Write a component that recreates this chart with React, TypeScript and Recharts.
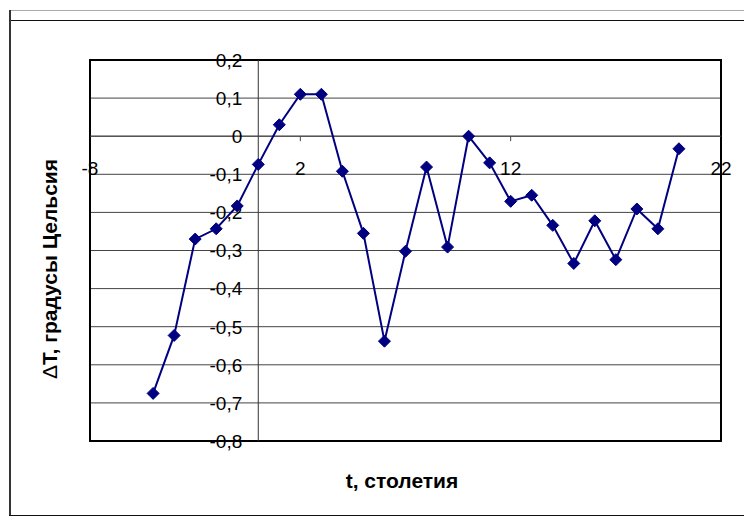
import React from 'react';
import {
  LineChart,
  Line,
  XAxis,
  YAxis,
  CartesianGrid,
  ReferenceLine,
  ReferenceDot,
  ReferenceArea,
} from 'recharts';

const centuries = [-5, -4, -3, -2, -1, 0, 1, 2, 3, 4, 5, 6, 7, 8, 9, 10, 11, 12, 13, 14, 15, 16, 17, 18, 19, 20];
const deltaT = [
  -0.675, -0.523, -0.27, -0.243, -0.183, -0.074, 0.03, 0.11, 0.11, -0.092, -0.255, -0.538, -0.302,
  -0.081, -0.291, 0, -0.07, -0.171, -0.155, -0.234, -0.334, -0.222, -0.324, -0.191, -0.243, -0.033,
];
const xTickValues = [-8, 2, 12, 22];
const xTickLabels = ['-8', '2', '12', '22'];
const yTickValues = [0.2, 0.1, 0, -0.1, -0.2, -0.3, -0.4, -0.5, -0.6, -0.7, -0.8];
const yTickLabels = ['0,2', '0,1', '0', '-0,1', '-0,2', '-0,3', '-0,4', '-0,5', '-0,6', '-0,7', '-0,8'];
const xMinorTicks = [2, 12];

const xTitle = 't, столетия';
const yTitleSymbol = '\u0394';
const yTitleRest = 'T,  градусы Цельсия';

const data = centuries.map((t, i) => ({ t, dT: deltaT[i] }));

const FONT = '"Liberation Sans", Arial, sans-serif';
const NAVY = '#000080';
const TICK_FONT = 19;

const Diamond = (props: any) => {
  const { cx, cy } = props;
  if (cx == null || cy == null) return null;
  const s = 6;
  return (
    <path
      d={`M${cx},${cy - s}L${cx + s},${cy}L${cx},${cy + s}L${cx - s},${cy}Z`}
      fill={NAVY}
      stroke={NAVY}
      strokeWidth={1}
    />
  );
};

const yLabelShape = (text: string) => (props: any) => {
  const { cx, cy } = props;
  if (cx == null || cy == null) return <g />;
  return (
    <text
      x={cx - 16}
      y={cy}
      dy="0.36em"
      textAnchor="end"
      fontFamily={FONT}
      fontSize={TICK_FONT}
      fill="#000"
    >
      {text}
    </text>
  );
};

const xLabelShape = (text: string) => (props: any) => {
  const { cx, cy } = props;
  if (cx == null || cy == null) return <g />;
  return (
    <text
      x={cx}
      y={cy + 32}
      dy="0.36em"
      textAnchor="middle"
      fontFamily={FONT}
      fontSize={TICK_FONT}
      fill="#000"
    >
      {text}
    </text>
  );
};

export default function App() {
  return (
    <div style={{ position: 'absolute', left: 0, top: 0, width: 744, height: 517, background: '#fff' }}>
      <svg width={744} height={517} style={{ position: 'absolute', left: 0, top: 0 }}>
        <line x1={9} y1={10.5} x2={744} y2={10.5} stroke="#aaa" strokeWidth={1} />
        <line x1={9} y1={20.5} x2={744} y2={20.5} stroke="#111" strokeWidth={1} />
        <line x1={10} y1={10} x2={10} y2={516} stroke="#333" strokeWidth={2} />
        <line x1={9} y1={515.5} x2={744} y2={515.5} stroke="#111" strokeWidth={1} />
        <text
          x={402}
          y={488}
          textAnchor="middle"
          fontFamily={FONT}
          fontWeight="bold"
          fontSize={21}
          fill="#000"
        >
          {xTitle}
        </text>
        <text
          x={57}
          y={269}
          textAnchor="middle"
          fontFamily={FONT}
          fontWeight="bold"
          fontSize={21}
          fill="#000"
          transform="rotate(-90, 57, 269)"
        >
          <tspan fontWeight="normal">{yTitleSymbol}</tspan>
          <tspan>{yTitleRest}</tspan>
        </text>
      </svg>
      <div style={{ position: 'absolute', left: 0, top: 0 }}>
        <LineChart
          width={744}
          height={517}
          data={data}
          margin={{ top: 60, right: 23, bottom: 76, left: 90 }}
        >
          <XAxis type="number" dataKey="t" domain={[-8, 22]} ticks={xTickValues} hide />
          <YAxis type="number" domain={[-0.8, 0.2]} ticks={yTickValues} hide />
          <CartesianGrid vertical={false} stroke="#444" strokeWidth={1} />
          <ReferenceLine x={0} stroke="#333" strokeWidth={1} />
          <ReferenceLine y={0} stroke="#444" strokeWidth={1} />
          {xMinorTicks.map((v) => (
            <ReferenceLine
              key={`xt${v}`}
              segment={[
                { x: v, y: 0 },
                { x: v, y: -0.013 },
              ]}
              stroke="#444"
              strokeWidth={1}
            />
          ))}
          <ReferenceArea
            x1={-8}
            x2={22}
            y1={-0.8}
            y2={0.2}
            fill="none"
            fillOpacity={0}
            stroke="#000"
            strokeWidth={2}
          />
          {yTickValues.map((v, i) => (
            <ReferenceDot key={`yl${v}`} x={0} y={v} r={1} shape={yLabelShape(yTickLabels[i])} />
          ))}
          {xTickValues.map((v, i) => (
            <ReferenceDot key={`xl${v}`} x={v} y={0} r={1} shape={xLabelShape(xTickLabels[i])} />
          ))}
          <Line
            type="linear"
            dataKey="dT"
            stroke={NAVY}
            strokeWidth={2}
            dot={<Diamond />}
            activeDot={false}
            isAnimationActive={false}
          />
        </LineChart>
      </div>
    </div>
  );
}
